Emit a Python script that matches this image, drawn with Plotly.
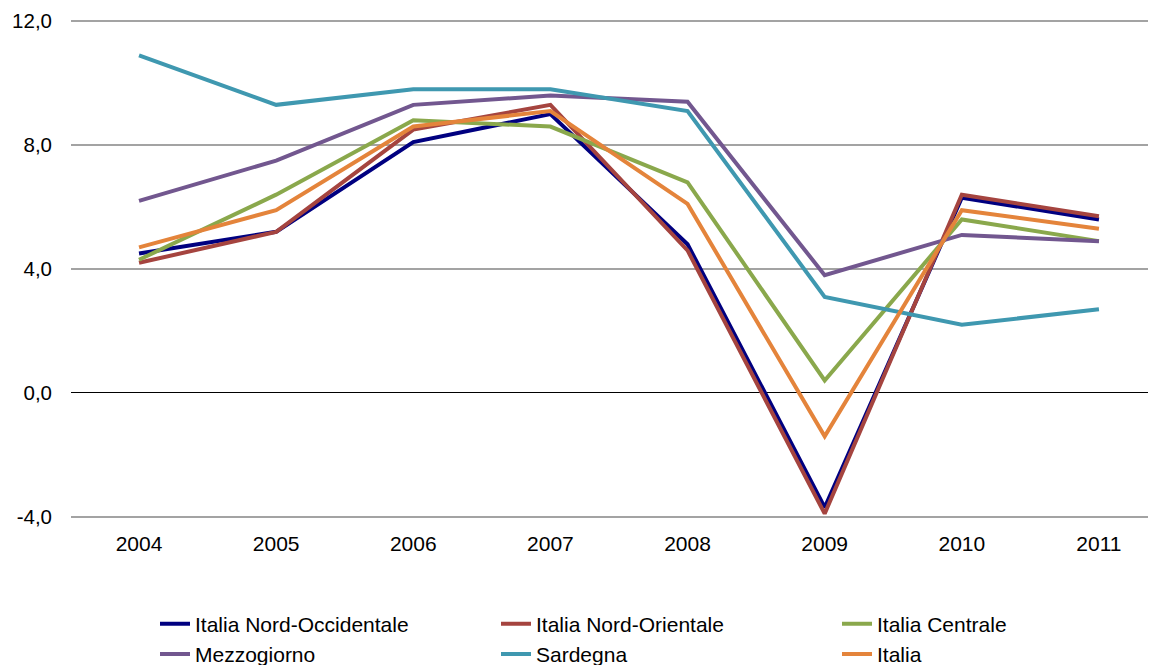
import plotly.graph_objects as go

years = ["2004", "2005", "2006", "2007", "2008", "2009", "2010", "2011"]

nord_occidentale = [4.5, 5.2, 8.1, 9.0, 4.8, -3.7, 6.3, 5.6]
nord_orientale = [4.2, 5.2, 8.5, 9.3, 4.6, -3.9, 6.4, 5.7]
centrale = [4.3, 6.4, 8.8, 8.6, 6.8, 0.4, 5.6, 4.9]
mezzogiorno = [6.2, 7.5, 9.3, 9.6, 9.4, 3.8, 5.1, 4.9]
sardegna = [10.9, 9.3, 9.8, 9.8, 9.1, 3.1, 2.2, 2.7]
italia = [4.7, 5.9, 8.6, 9.1, 6.1, -1.4, 5.9, 5.3]

series = [
    ("Italia Nord-Occidentale", nord_occidentale, "#000080"),
    ("Italia Nord-Orientale", nord_orientale, "#A5443F"),
    ("Italia Centrale", centrale, "#8AA84C"),
    ("Mezzogiorno", mezzogiorno, "#72578F"),
    ("Sardegna", sardegna, "#3F98B0"),
    ("Italia", italia, "#E4843B"),
]

y_ticks = [-4, 0, 4, 8, 12]
y_tick_labels = ["-4,0", "0,0", "4,0", "8,0", "12,0"]

fig = go.Figure()
for name, vals, color in series:
    fig.add_trace(go.Scatter(
        x=years, y=vals, name=name, mode="lines",
        line=dict(color=color, width=4),
    ))

font = "Liberation Sans, Arial, sans-serif"
W, H = 1148, 657
L, R, T, B = 63, 0, 12.3, 146.8
plot_w = W - L - R
fig.update_layout(
    width=W, height=H,
    margin=dict(l=L, r=R, t=T, b=B, autoexpand=False),
    paper_bgcolor="white", plot_bgcolor="white",
    font=dict(family=font, size=20, color="black"),
    showlegend=True,
    legend=dict(
        orientation="h",
        x=(147 - L) / plot_w, xref="paper", xanchor="left",
        yref="container", y=0.0936, yanchor="top",
        entrywidth=296, entrywidthmode="pixels",
        font=dict(family=font, size=21, color="black"),
        bgcolor="rgba(0,0,0,0)",
        itemwidth=30,
        traceorder="normal",
    ),
    xaxis=dict(
        type="category",
        range=[-0.496, 7.416],
        showgrid=False, showline=False, ticks="",
        zeroline=False,
        tickfont=dict(family=font, size=21),
        ticklabelstandoff=11,
    ),
    yaxis=dict(
        range=[-4.04, 12.04],
        tickvals=y_ticks,
        ticktext=y_tick_labels,
        showgrid=True, gridcolor="#A3A3A3", gridwidth=1.5,
        zeroline=True, zerolinecolor="black", zerolinewidth=1.2,
        showline=False, ticks="",
        tickfont=dict(family=font, size=20.5),
        ticklabelstandoff=18,
    ),
)

fig.write_html("out.html")
